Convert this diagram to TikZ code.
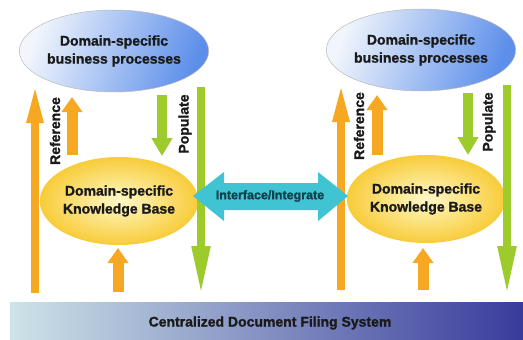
\documentclass[tikz,border=0pt]{standalone}
\usepackage{fontspec}
\setmainfont{Liberation Sans}[BoldFeatures={FakeBold=1.3}]
\usetikzlibrary{shapes.geometric,arrows.meta}

\definecolor{refor}{HTML}{F7A823}
\definecolor{popgr}{HTML}{9CCB2B}
\definecolor{ifcyan}{HTML}{40C3D3}
\definecolor{iftext}{HTML}{12404C}
\definecolor{bpblue}{HTML}{5D8FEA}
\definecolor{bplight}{HTML}{F2F6FC}
\definecolor{kbin}{HTML}{FFF9C8}
\definecolor{kbout}{HTML}{F8CC3A}
\definecolor{barleft}{HTML}{CDE4E8}
\definecolor{barmid}{HTML}{9AB4D4}
\definecolor{barright}{HTML}{393B9C}
\definecolor{ink}{HTML}{1A1A1A}

\tikzset{
  lbl/.style={font=\bfseries\fontsize{14}{18}\selectfont, text=ink, align=center},
  procnode/.style={ellipse, draw=gray!55, line width=0.5pt,
    minimum width=174pt, minimum height=82pt, inner sep=0pt,
    left color=bplight, right color=bpblue, shading angle=70, lbl},
  kbnode/.style={ellipse, minimum width=142pt, minimum height=88pt, inner sep=0pt,
    inner color=kbin, outer color=kbout, lbl},
  longref/.style={draw=refor, line width=8pt, -{Triangle[length=40pt,width=15pt]}},
  shortref/.style={draw=refor, line width=11pt, -{Triangle[length=15pt,width=20pt]}},
  shortpop/.style={draw=popgr, line width=10pt, -{Triangle[length=18pt,width=20pt]}},
  longpop/.style={draw=popgr, line width=8pt, -{Triangle[length=50pt,width=17pt]}},
  vlabel/.style={lbl, rotate=90}
}

\begin{document}
\begin{tikzpicture}[x=1pt,y=-1pt]
  \useasboundingbox (0,0) rectangle (523,340);
  \fill[white] (0,0) rectangle (523,340);

  % filing system bar
  \shade[left color=barleft, middle color=barmid, right color=barright]
    (10,302) rectangle (523,340);
  \node[lbl] (cdfs) at (270,323) {Centralized Document Filing System};

  % ---- left domain ----
  \node[procnode] (bpA) at (114,51) {Domain-specific\\business processes};
  \node[kbnode] (kbA) at (119,201) {Domain-specific\\Knowledge Base};

  \coordinate (refAlo) at (35,293);  \coordinate (refAhi) at (35,83);
  \coordinate (refBlo) at (72,155);  \coordinate (refBhi) at (72,97);
  \coordinate (popAhi) at (162,95);  \coordinate (popAlo) at (162,156);
  \coordinate (popBhi) at (201,87);  \coordinate (popBlo) at (201,296);
  \coordinate (kbAlo) at (118,292);  \coordinate (kbAhi) at (118,248);

  \draw[longref] (refAlo) -- (refAhi);
  \draw[shortref] (refBlo) -- (refBhi);
  \draw[shortpop] (popAhi) -- (popAlo);
  \draw[longpop] (popBhi) -- (popBlo);
  \draw[shortref] (kbAlo) -- (kbAhi);

  \node[vlabel] (refLblA) at (55,131) {Reference};
  \node[vlabel] (popLblA) at (185,124) {Populate};

  % ---- right domain ----
  \node[procnode] (bpB) at (421,50) {Domain-specific\\business processes};
  \node[kbnode] (kbB) at (426,199) {Domain-specific\\Knowledge Base};

  \coordinate (refClo) at (341,290); \coordinate (refChi) at (341,82);
  \coordinate (refDlo) at (377,155); \coordinate (refDhi) at (377,95);
  \coordinate (popChi) at (468,93);  \coordinate (popClo) at (468,155);
  \coordinate (popDhi) at (507,85);  \coordinate (popDlo) at (507,296);
  \coordinate (kbBlo) at (423,290);  \coordinate (kbBhi) at (423,248);

  \draw[longref] (refClo) -- (refChi);
  \draw[shortref] (refDlo) -- (refDhi);
  \draw[shortpop] (popChi) -- (popClo);
  \draw[longpop] (popDhi) -- (popDlo);
  \draw[shortref] (kbBlo) -- (kbBhi);

  \node[vlabel] (refLblB) at (359,126) {Reference};
  \node[vlabel] (popLblB) at (489,122) {Populate};

  % interface double arrow between the two domains
  \fill[ifcyan] (193,196) -- (224,172) -- (224,183) -- (318,183) -- (318,172)
    -- (348,196) -- (318,221) -- (318,210) -- (224,210) -- (224,221) -- cycle;
  \node[font=\bfseries\fontsize{12.5}{15}\selectfont, text=iftext] (iface) at (270,196) {Interface/Integrate};
\end{tikzpicture}
\end{document}
